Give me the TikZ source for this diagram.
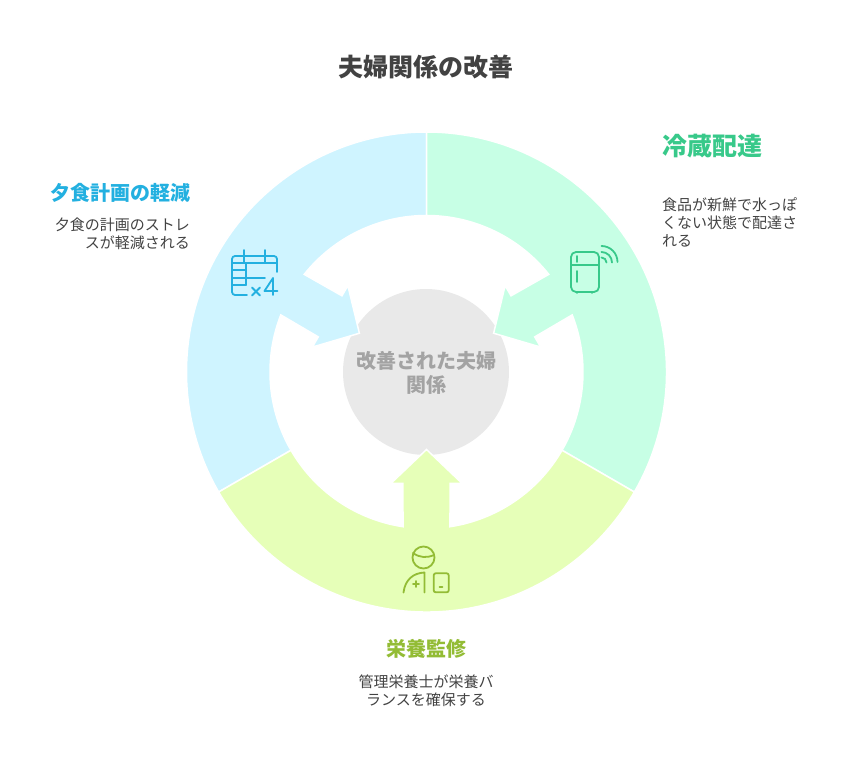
\documentclass[tikz,border=0pt]{standalone}
\usepackage{fontspec}
\newfontfamily\cjk{Noto Sans CJK JP}
\definecolor{cyanring}{HTML}{CFF4FF}
\definecolor{greenring}{HTML}{C7FFE5}
\definecolor{limering}{HTML}{E6FFB8}
\definecolor{cyanink}{HTML}{23B0E0}
\definecolor{greenink}{HTML}{38C98A}
\definecolor{limeink}{HTML}{93BC35}
\definecolor{darkink}{HTML}{424242}
\definecolor{hubgrey}{HTML}{E9E9E9}
\definecolor{hubink}{HTML}{A3A3A3}
\tikzstyle{segment}=[draw=white,line width=1.5,line join=miter]
\tikzstyle{icon}=[line width=1.8,line cap=round,line join=round]
\tikzstyle{every node}=[inner sep=0,font=\cjk]
\tikzstyle{heading}=[font=\cjk\bfseries\fontsize{20}{24}\selectfont]
\tikzstyle{note}=[font=\cjk\fontsize{15}{18}\selectfont,text=darkink]

\begin{document}
\begin{tikzpicture}[x=1pt,y=-1pt]
    \useasboundingbox (0,0) rectangle (852,768);
    \fill[hubgrey] (426,372) circle (83);
    \begin{scope}[shift={(426.5,372)}]
      \foreach \ang/\col in {150/cyanring,30/greenring,270/limering}
      \draw[segment,fill=\col,rotate=\ang]
      (60:240) arc (60:-60:240) -- (-60:156.5) arc (-60:-8.6:156.5)
      -- (111.3,-23.7) -- (111.3,-35.5) -- (77.5,0) -- (111.3,35.5) -- (111.3,23.7)
      -- (8.6:156.5) arc (8.6:60:156.5) -- cycle;
    \end{scope}
    % texts
    \node[font=\cjk\bfseries\fontsize{25}{30}\selectfont,text=darkink] (title) at (426,67.5) {夫婦関係の改善};
    \node[text=hubink,align=center,font=\cjk\bfseries\fontsize{20}{24}\selectfont] (hub) at (426,373) {改善された夫婦\\関係};
    \node[font=\cjk\bfseries\fontsize{25}{30}\selectfont,text=greenink,anchor=west] (coldhead) at (662,146) {冷蔵配達};
    \node[note,align=left,anchor=west] (coldnote) at (662,222) {食品が新鮮で水っぽ\\くない状態で配達さ\\れる};
    \node[heading,text=cyanink,anchor=east] (mealhead) at (190.5,192.5) {夕食計画の軽減};
    \node[note,align=right,anchor=east] (mealnote) at (190,234) {夕食の計画のストレ\\スが軽減される};
    \node[heading,text=limeink] (dietshead) at (426,648.5) {栄養監修};
    \node[note,align=center] (dietnote) at (426,690.5) {管理栄養士が栄養バ\\ランスを確保する};
    % calendar
    \begin{scope}[icon,draw=cyanink]
      \draw (277,272) -- (277,259) arc (0:-90:3) -- (235,256) arc (270:180:3) -- (232,292) arc (180:90:3) -- (247,295);
      \draw (232,263) -- (277,263);
      \draw (244,250) -- (244,262);
      \draw (265,250) -- (265,262);
      \draw (246,263) -- (246,285);
      \draw (232,270) -- (246,270);
      \draw (232,278) -- (265,278);
      \draw (232,285) -- (246,285);
      \draw (252,287.5) -- (260,295.5);
      \draw (260,287.5) -- (252,295.5);
      \draw (273,295) -- (273,278) -- (264.5,291) -- (277.5,291);
    \end{scope}
    % fridge
    \begin{scope}[icon,draw=greenink]
      \draw[rounded corners=5] (571,252) rectangle (599,292);
      \draw (571,265) -- (599,265);
      \draw (577,256) -- (577,262);
      \draw (577,271) -- (577,282);
      \draw (577,292) -- (577,293);
      \draw (592,292) -- (592,293);
      \draw (601.5,257.5) arc (270:360:5);
      \draw (601.5,252) arc (270:360:10.5);
      \draw (601.5,246) arc (270:360:16);
    \end{scope}
    % dietitian
    \begin{scope}[icon,draw=limeink]
      \draw (423.5,557.5) circle (11);
      \draw (413,553) .. controls (420,558) and (427,558) .. (434,555);
      \draw (403.5,592.5) .. controls (405,580) and (413,573) .. (424.5,572.5) -- (424.5,592.5);
      \draw (413,584) -- (419,584);
      \draw (416,581) -- (416,587);
      \draw[rounded corners=2] (433.7,573.3) rectangle (448.7,592.3);
      \draw (439.5,587) -- (442.5,587);
    \end{scope}
\end{tikzpicture}
\end{document}
